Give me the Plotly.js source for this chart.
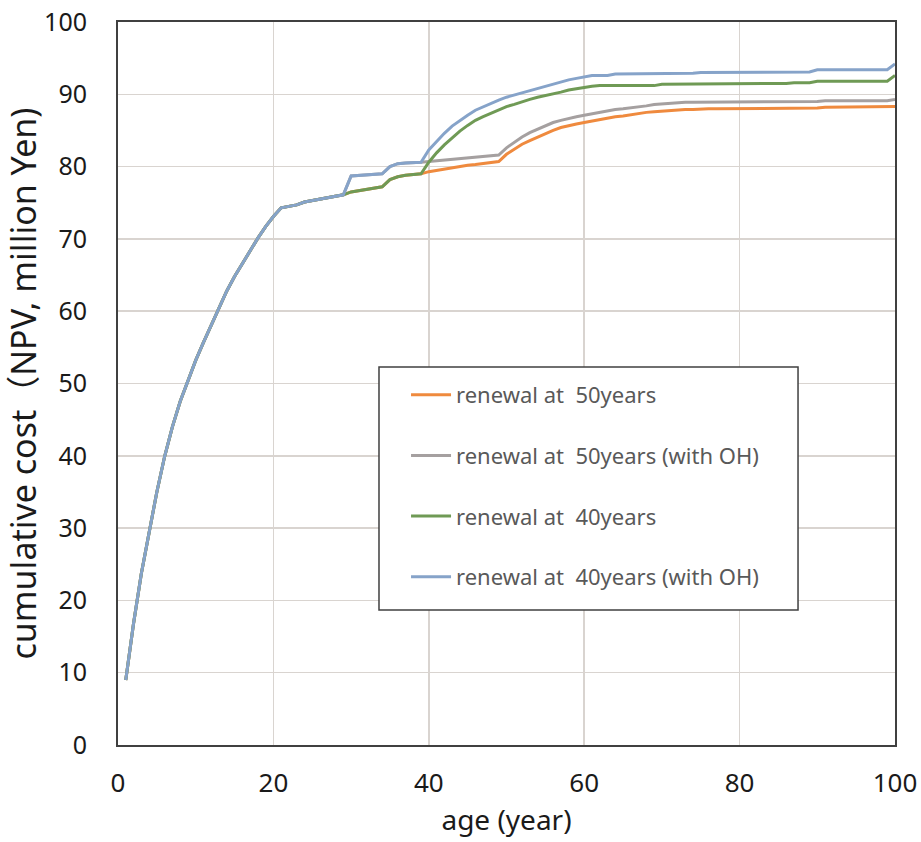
<!DOCTYPE html>
<html>
<head>
<meta charset="utf-8">
<script src="https://cdn.plot.ly/plotly-3.0.1.min.js"></script>
<style>html,body{margin:0;padding:0;background:#fff;}#chart{width:921px;height:842px;}</style>
</head>
<body>
<div id="chart"></div>
<script>
// age (year)
const years = [1,2,3,4,5,6,7,8,9,10,11,12,13,14,15,16,17,18,19,20,
  21,22,23,24,25,26,27,28,29,30,31,32,33,34,35,36,37,38,39,40,
  41,42,43,44,45,46,47,48,49,50,51,52,53,54,55,56,57,58,59,60,
  61,62,63,64,65,66,67,68,69,70,71,72,73,74,75,76,77,78,79,80,
  81,82,83,84,85,86,87,88,89,90,91,92,93,94,95,96,97,98,99,100];

// years 1-29, common to all cases
const costShared = [9.0,16.8,23.7,29.6,35.0,39.9,44.0,47.5,50.5,53.2,
  55.7,58.1,60.6,62.8,64.8,66.6,68.2,70.1,71.7,73.1,
  74.3,74.5,74.7,75.1,75.3,75.5,75.7,75.9,76.1];
// years 30-39 without / with OH
const costNoOH30 = [76.5,76.7,76.9,77.0,77.2,78.2,78.6,78.8,78.9,79.0];
const costOH30 = [78.7,78.8,78.9,79.0,79.0,80.0,80.4,80.5,80.5,80.6];

// years 40-100
const renew50 = [79.3,79.5,79.7,79.9,80.0,80.2,80.3,80.4,80.6,80.7,
  81.7,82.4,83.1,83.6,84.1,84.6,85.0,85.4,85.7,85.9,
  86.1,86.3,86.6,86.8,86.9,87.0,87.2,87.3,87.5,87.6,
  87.7,87.8,87.9,87.9,87.9,88.0,88.0,88.0,88.0,88.0,
  88.0,88.1,88.1,88.1,88.1,88.1,88.1,88.1,88.1,88.1,
  88.1,88.2,88.2,88.2,88.2,88.2,88.2,88.2,88.2,88.2,
  88.3];
const renew50OH = [80.7,80.8,80.9,81.0,81.1,81.2,81.3,81.4,81.5,81.6,
  82.6,83.4,84.1,84.7,85.2,85.7,86.1,86.4,86.7,86.9,
  87.1,87.3,87.6,87.7,87.9,88.0,88.1,88.3,88.4,88.6,
  88.7,88.8,88.8,88.9,88.9,88.9,88.9,88.9,88.9,88.9,
  88.9,89.0,89.0,89.0,89.0,89.0,89.0,89.0,89.0,89.0,
  89.0,89.1,89.1,89.1,89.1,89.1,89.1,89.1,89.1,89.1,
  89.3];
const renew40 = [80.6,81.9,83.0,84.0,84.9,85.7,86.4,86.9,87.4,87.9,
  88.3,88.6,89.0,89.3,89.6,89.8,90.0,90.3,90.6,90.8,
  90.9,91.1,91.2,91.2,91.2,91.2,91.2,91.2,91.2,91.2,
  91.4,91.4,91.4,91.4,91.4,91.5,91.5,91.5,91.5,91.5,
  91.5,91.5,91.5,91.5,91.5,91.5,91.5,91.6,91.6,91.6,
  91.8,91.8,91.8,91.8,91.8,91.8,91.8,91.8,91.8,91.8,
  92.6];
const renew40OH = [82.3,83.5,84.6,85.6,86.4,87.1,87.8,88.3,88.8,89.2,
  89.6,89.9,90.3,90.6,90.9,91.2,91.4,91.7,92.0,92.2,
  92.4,92.6,92.6,92.6,92.8,92.8,92.8,92.8,92.8,92.8,
  92.9,92.9,92.9,92.9,92.9,93.0,93.0,93.0,93.0,93.0,
  93.0,93.0,93.0,93.0,93.0,93.0,93.1,93.1,93.1,93.1,
  93.4,93.4,93.4,93.4,93.4,93.4,93.4,93.4,93.4,93.4,
  94.2];

const seriesNames = ['renewal at  50years','renewal at  50years (with OH)','renewal at  40years','renewal at  40years (with OH)'];
const seriesColors = ['#ef8a3e','#a5a0a0','#6f9a55','#86a3c9'];
const seriesValues = [
  costShared.concat(costNoOH30, renew50),
  costShared.concat(costOH30, renew50OH),
  costShared.concat(costNoOH30, renew40),
  costShared.concat(costOH30, renew40OH)
];

const traces = seriesValues.map((v, i) => ({
  x: years, y: v, type: 'scatter', mode: 'lines', name: seriesNames[i],
  legendgroup: 'g' + i,
  line: {color: seriesColors[i], width: 3}
}));

const font = 'Noto Sans, Open Sans, sans-serif';
const layout = {
  width: 921, height: 842,
  margin: {l: 118, r: 26, t: 22, b: 97},
  paper_bgcolor: '#fff', plot_bgcolor: '#fff',
  showlegend: true,
  font: {family: font, color: '#1a1a1a'},
  xaxis: {
    range: [0, 100], tickvals: [0,20,40,60,80,100], ticktext: ['0','20','40','60','80','100'],
    showgrid: true, gridcolor: '#d9d4d0', gridwidth: 1.5,
    showline: true, linecolor: '#404040', linewidth: 2, mirror: true,
    zeroline: false, ticks: '', ticklabelstandoff: 14,
    tickfont: {size: 26, family: font, color: '#1a1a1a'},
    title: {text: 'age (year)', font: {size: 28, family: font, color: '#1a1a1a'}, standoff: 6}
  },
  yaxis: {
    range: [0, 100], tickvals: [0,10,20,30,40,50,60,70,80,90,100],
    ticktext: ['0','10','20','30','40','50','60','70','80','90','100'],
    showgrid: true, gridcolor: '#d9d4d0', gridwidth: 1.5,
    showline: true, linecolor: '#404040', linewidth: 2, mirror: true,
    zeroline: false, ticks: '', ticklabelstandoff: 24,
    tickfont: {size: 25, family: font, color: '#1a1a1a'},
    title: {text: 'cumulative cost（NPV, million Yen)', font: {size: 34, family: font + ', Noto Sans CJK JP', color: '#1a1a1a'}, standoff: 0}
  },
  shapes: [{
    type: 'rect', xref: 'paper', yref: 'paper', layer: 'above',
    x0: 0.3359, x1: 0.8752, y0: 0.1867, y1: 0.5228,
    fillcolor: '#fff', line: {color: '#404040', width: 1.5}
  }],
  legend: {
    x: 0.3707, y: 0.5131, xanchor: 'left', yanchor: 'top',
    bgcolor: 'rgba(0,0,0,0)', borderwidth: 0,
    font: {size: 22, family: font, color: '#595959'},
    tracegroupgap: 29, itemwidth: 40
  }
};

Plotly.newPlot('chart', traces, layout, {displayModeBar: false, staticPlot: true});
</script>
</body>
</html>
